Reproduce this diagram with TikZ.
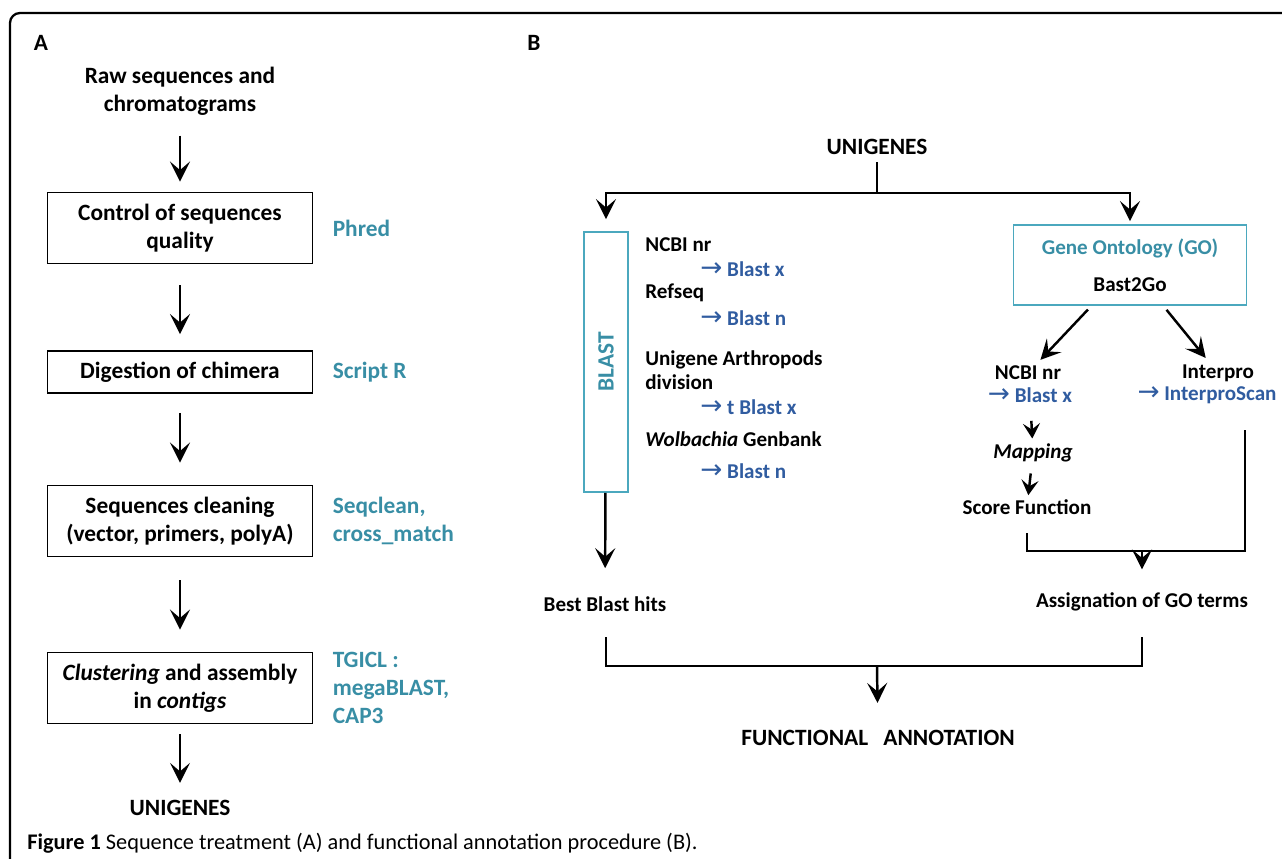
\documentclass[tikz,border=0pt]{standalone}
\usepackage{fontspec}
\setmainfont{Carlito}
\newfontfamily\arrowfont{DejaVu Sans}
\usetikzlibrary{arrows.meta, positioning}

\definecolor{toolteal}{RGB}{56,142,165}
\definecolor{hitblue}{RGB}{48,92,160}
\definecolor{boxteal}{RGB}{75,168,190}
\newcommand{\toarrow}{{\arrowfont\mdseries\fontsize{15}{15}\selectfont →}}

\begin{document}
\begin{tikzpicture}[
		x=0.02cm, y=-0.02cm,
		every node/.style={font=\bfseries\fontsize{13.3}{16}\selectfont, inner sep=0pt},
		stepbox/.style={draw, line width=1.1pt, minimum width=5.3cm, align=center},
		tool/.style={text=toolteal, align=left},
		lbl/.style={font=\bfseries\fontsize{12}{13.6}\selectfont, align=left},
		hit/.style={lbl, text=hitblue},
		list/.style={anchor=west},
		tealbox/.style={draw=boxteal, line width=1.1pt},
		edge/.style={-{Stealth[length=4mm, width=4mm, inset=1.7mm]}, line width=1.4pt},
		small/.style={-{Stealth[length=3mm, width=3.4mm, inset=1.2mm]}, line width=1.4pt},
		line/.style={line width=1.3pt}
		]
		\useasboundingbox (0,0) rectangle (1282,859);
		
		% okvir
		\draw[line, rounded corners=0.2cm] (1282,13) -- (10,13) -- (10,859);
		
		% A
		\node (labA) at (41,43) {A};
		\node[align=center] (raw) at (180,91) {Raw sequences and\\chromatograms};
		\node[stepbox, minimum height=1.42cm] (c1) at (180,228) {Control of sequences\\quality};
		\node[stepbox, minimum height=0.84cm] (c2) at (180,372) {Digestion of chimera};
		\node[stepbox, minimum height=1.42cm] (c3) at (180,521) {Sequences cleaning\\(vector, primers, polyA)};
		\node[stepbox, minimum height=1.42cm] (c4) at (180,688) {\textit{Clustering} and assembly\\in \textit{contigs}};
		\node (uniA) at (180,808) {UNIGENES};
		
		\node[tool, right=0.38cm of c1] (phred) {Phred};
		\node[tool, right=0.38cm of c2] (scriptr) {Script R};
		\node[tool, right=0.38cm of c3] (seqclean) {Seqclean,\\cross\_match};
		\node[tool, right=0.38cm of c4] (tgicl) {TGICL :\\megaBLAST,\\CAP3};
		
		\draw[edge, shorten <=4mm, shorten >=2mm] (raw) -- (c1);
		\draw[edge, shorten <=4.2mm, shorten >=3.2mm] (c1) -- (c2);
		\draw[edge, shorten <=3.8mm, shorten >=4.4mm] (c2) -- (c3);
		\draw[edge, shorten <=4.6mm, shorten >=4.4mm] (c3) -- (c4);
		\draw[edge, shorten <=2mm, shorten >=3.4mm] (c4) -- (uniA);
		
		% B
		\node (labB) at (534,43) {B};
		\node (uniB) at (877,147) {UNIGENES};
		\coordinate (usplit) at (877,193);
		
		\node[tealbox, rotate=90, minimum width=5.2cm, minimum height=0.88cm, text=toolteal] (blast) at (606,362) {BLAST};
		\node[lbl, list] (ncbi) at (645,245) {NCBI nr};
		\node[hit, list] (bx1) at (700,269) {\toarrow{} Blast x};
		\node[lbl, list] (refseq) at (645,293) {Refseq};
		\node[hit, list] (bn1) at (700,318) {\toarrow{} Blast n};
		\node[lbl, list] (unigene) at (645,370) {Unigene Arthropods\\division};
		\node[hit, list] (tbx) at (700,407) {\toarrow{} t Blast x};
		\node[lbl, list] (wolb) at (645,439) {\textit{Wolbachia} Genbank};
		\node[hit, list] (bn2) at (700,471) {\toarrow{} Blast n};
		
		\node[tealbox, minimum width=4.66cm, minimum height=1.6cm, align=center, font=\bfseries\fontsize{12}{14}\selectfont] (go) at (1130,265) {{\color{toolteal}Gene Ontology (GO)}\\[7pt]Bast2Go};
		\node[lbl] (ncbiB) at (1028,373) {NCBI nr};
		\node[hit] (bxB) at (1030,395) {\toarrow{} Blast x};
		\node[lbl] (mapping) at (1033,453) {\textit{Mapping}};
		\node[lbl] (score) at (1027,507) {Score Function};
		\node[lbl] (interpro) at (1218,373) {Interpro};
		\node[hit] (iscan) at (1207,395) {\toarrow{} InterproScan};
		
		\node[lbl] (best) at (605,604) {Best Blast hits};
		\node[lbl] (assign) at (1142,602) {Assignation of GO terms};
		\node (func) at (878,738) {FUNCTIONAL\hspace{0.65em}ANNOTATION};
		
		% grane
		\draw[line, shorten <=1.4mm] (uniB) -- (usplit);
		\draw[edge, shorten >=2.4mm] (usplit) -| (blast);
		\draw[edge, shorten >=0.6mm] (usplit) -| (go);
		\draw[edge, shorten >=5.6mm] (blast) -- (best);
		\draw[edge, shorten <=1mm, shorten >=1.6mm] (go) -- (ncbiB);
		\draw[edge, shorten <=1mm, shorten >=1.6mm] (go) -- (interpro);
		\draw[small, shorten <=3.6mm, shorten >=1mm] (bxB) -- (mapping);
		\draw[small, shorten <=2.2mm, shorten >=0.8mm] (mapping) -- (score);
		
		\coordinate (sfoot) at (1027,533);
		\coordinate (ifoot) at (1245,430);
		\coordinate (gojoin) at (1142,551);
		\draw[line] (sfoot) |- (gojoin) -| (ifoot);
		\draw[edge, shorten >=4.6mm] (gojoin) -- (assign);
		
		\coordinate (bfoot) at (606,637);
		\coordinate (afoot) at (1142,637);
		\coordinate (fajoin) at (877,666);
		\draw[line] (bfoot) |- (fajoin) -| (afoot);
		\draw[edge, shorten >=5.4mm] (fajoin) -- (func);
		
		% naslov
		\node[anchor=west, font=\fontsize{12.7}{15}\selectfont] (cap) at (27,843) {\textbf{Figure 1} Sequence treatment (A) and functional annotation procedure (B).};
		
	\end{tikzpicture}
\end{document}
